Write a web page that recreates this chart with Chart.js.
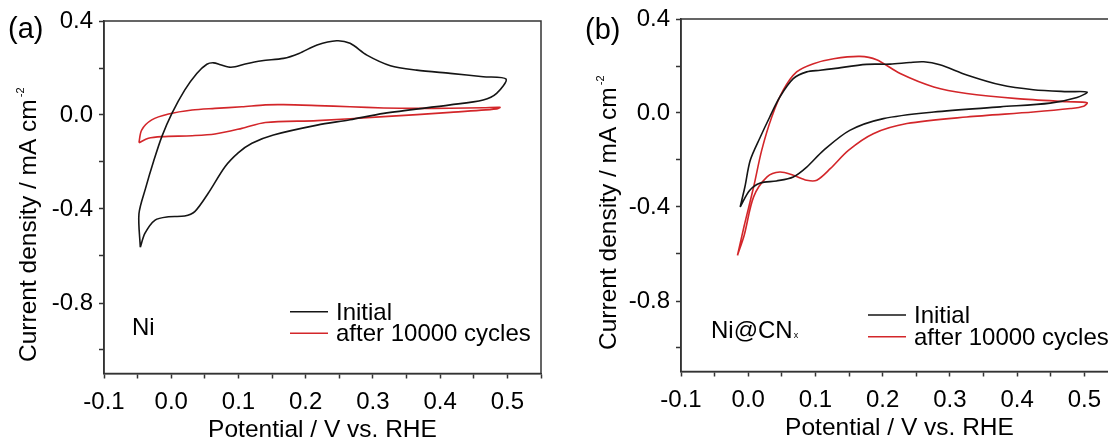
<!DOCTYPE html>
<html>
<head>
<meta charset="utf-8">
<script src="https://cdn.jsdelivr.net/npm/chart.js@4.4.1/dist/chart.umd.min.js"></script>
<style>
  html, body { margin: 0; padding: 0; background: #fff; }
  body { width: 1108px; height: 439px; overflow: hidden; position: relative; }
  .panel { position: absolute; width: 554px; height: 439px; }
  #panelA { left: 0; top: 0; }
  #panelB { left: 577px; top: -2px; }
</style>
</head>
<body>
<div class="panel" id="panelA"><canvas id="chartA" width="554" height="439"></canvas></div>
<div class="panel" id="panelB"><canvas id="chartB" width="554" height="439"></canvas></div>
<script>
// CV loops, potential (V vs. RHE) and current density (mA cm-2)
const niInitV = [-0.046, -0.048, -0.038, -0.026, -0.014, 0.001, 0.020, 0.038, 0.053, 0.063, 0.073, 0.085, 0.095, 0.110, 0.135, 0.167, 0.190, 0.217, 0.246, 0.266, 0.291, 0.326, 0.365, 0.415, 0.464, 0.498,
                 0.484, 0.464, 0.415, 0.316, 0.266, 0.217, 0.152, 0.120, 0.100, 0.080, 0.055, 0.035, 0.020, -0.004, -0.024, -0.039, -0.046];
const niInitJ = [-0.563, -0.420, -0.310, -0.195, -0.092, 0.007, 0.106, 0.177, 0.216, 0.222, 0.214, 0.204, 0.205, 0.217, 0.231, 0.241, 0.262, 0.298, 0.316, 0.305, 0.255, 0.210, 0.191, 0.177, 0.163, 0.153,
                 0.092, 0.064, 0.043, 0.007, -0.020, -0.043, -0.085, -0.120, -0.160, -0.220, -0.333, -0.411, -0.430, -0.433, -0.447, -0.503, -0.563];

const niCycV = [-0.048, -0.044, -0.029, -0.004, 0.031, 0.065, 0.105, 0.140, 0.167, 0.217, 0.266, 0.316, 0.365, 0.415, 0.464, 0.489,
                0.484, 0.415, 0.316, 0.217, 0.140, 0.105, 0.065, 0.031, -0.014, -0.034, -0.048];
const niCycJ = [-0.118, -0.064, -0.021, 0.004, 0.021, 0.028, 0.035, 0.043, 0.044, 0.040, 0.035, 0.030, 0.028, 0.029, 0.031, 0.033,
                0.026, 0.011, -0.007, -0.024, -0.032, -0.057, -0.081, -0.088, -0.092, -0.099, -0.118];

const cnInitV = [-0.012, -0.005, 0.003, 0.018, 0.032, 0.047, 0.067, 0.087, 0.107, 0.127, 0.176, 0.211, 0.240, 0.261, 0.285, 0.325, 0.375, 0.424, 0.474, 0.504,
                 0.489, 0.449, 0.375, 0.276, 0.201, 0.151, 0.112, 0.087, 0.067, 0.042, 0.018, 0.002, -0.012];
const cnInitJ = [-0.400, -0.315, -0.201, -0.102, -0.017, 0.068, 0.146, 0.175, 0.182, 0.189, 0.207, 0.208, 0.215, 0.218, 0.205, 0.162, 0.120, 0.099, 0.091, 0.089,
                 0.066, 0.042, 0.026, 0.004, -0.024, -0.074, -0.159, -0.230, -0.272, -0.289, -0.298, -0.330, -0.400];

const cnCycV = [-0.016, -0.006, 0.008, 0.020, 0.035, 0.052, 0.072, 0.097, 0.127, 0.166, 0.191, 0.226, 0.276, 0.325, 0.400, 0.474, 0.504,
                0.499, 0.479, 0.424, 0.325, 0.236, 0.186, 0.149, 0.122, 0.102, 0.087, 0.067, 0.047, 0.028, 0.008, -0.006, -0.016];
const cnCycJ = [-0.606, -0.480, -0.315, -0.159, -0.017, 0.097, 0.175, 0.210, 0.231, 0.241, 0.227, 0.168, 0.111, 0.083, 0.061, 0.048, 0.044,
                0.029, 0.019, 0.004, -0.017, -0.045, -0.088, -0.159, -0.237, -0.286, -0.286, -0.265, -0.251, -0.272, -0.357, -0.520, -0.606];

const seriesNames = ['Initial', 'after 10000 cycles'];
const seriesColors = ['#151515', '#d3262a'];

const xTicks = [-0.1, -0.05, 0.0, 0.05, 0.1, 0.15, 0.2, 0.25, 0.3, 0.35, 0.4, 0.45, 0.5, 0.55];
const yTicks = [-1.0, -0.8, -0.6, -0.4, -0.2, 0.0, 0.2, 0.4];

const FONT = '"Liberation Sans", Arial, sans-serif';
const AXIS = '#333';

function toPoints(xs, ys) {
  return xs.map((x, i) => ({ x: x, y: ys[i] }));
}

function isMultiple(v, step) {
  const r = v / step;
  return Math.abs(r - Math.round(r)) < 1e-6;
}

// full box around the plot, legend, sample name, panel letter and y title
const decorations = {
  id: 'decorations',
  afterDraw(chart, args, o) {
    const { ctx, chartArea: a } = chart;
    ctx.save();
    ctx.strokeStyle = AXIS;
    ctx.lineWidth = 1.5;
    ctx.strokeRect(a.left, a.top, a.right - a.left, a.bottom - a.top);

    ctx.fillStyle = '#000';
    ctx.textBaseline = 'alphabetic';
    ctx.textAlign = 'left';

    // panel letter
    ctx.font = '29px ' + FONT;
    ctx.fillText(o.letter, 8, o.letterY);

    // sample name
    ctx.font = '24px ' + FONT;
    ctx.fillText(o.sample, o.sampleX, o.sampleY);
    if (o.sampleSub) {
      const w = ctx.measureText(o.sample).width;
      ctx.font = '9px ' + FONT;
      ctx.fillText(o.sampleSub, o.sampleX + w + 1, o.sampleY);
    }

    // legend
    chart.data.datasets.forEach((ds, i) => {
      const y = o.legendY[i];
      ctx.strokeStyle = ds.borderColor;
      ctx.lineWidth = 1.5;
      ctx.beginPath();
      ctx.moveTo(o.legendX, y);
      ctx.lineTo(o.legendX + 38, y);
      ctx.stroke();
      ctx.font = '24px ' + FONT;
      ctx.fillText(ds.label, o.legendX + 46, y + 8);
    });

    // y axis title with superscript
    ctx.translate(o.yTitleX, o.yTitleY);
    ctx.rotate(-Math.PI / 2);
    ctx.font = '24.5px ' + FONT;
    const main = 'Current density / mA cm';
    ctx.fillText(main, 0, 0);
    const mw = ctx.measureText(main).width;
    ctx.font = '11px ' + FONT;
    ctx.fillText('-2', mw + 2, -12);
    ctx.restore();
  }
};

function makePanel(id, initV, initJ, cycV, cycJ, deco) {
  const ctx = document.getElementById(id).getContext('2d');
  return new Chart(ctx, {
    type: 'scatter',
    data: {
      datasets: [
        {
          label: seriesNames[0],
          data: toPoints(initV, initJ),
          borderColor: seriesColors[0],
          borderWidth: 1.6,
          showLine: true,
          pointRadius: 0,
          tension: 0.3,
          fill: false
        },
        {
          label: seriesNames[1],
          data: toPoints(cycV, cycJ),
          borderColor: seriesColors[1],
          borderWidth: 1.6,
          showLine: true,
          pointRadius: 0,
          tension: 0.3,
          fill: false
        }
      ]
    },
    options: {
      responsive: false,
      animation: false,
      layout: { padding: { left: 0, right: 13, top: 21, bottom: 0 } },
      plugins: {
        legend: { display: false },
        tooltip: { enabled: false },
        decorations: deco
      },
      scales: {
        x: {
          type: 'linear',
          min: -0.1,
          max: 0.55,
          afterBuildTicks: s => { s.ticks = xTicks.map(v => ({ value: v })); },
          afterFit: s => { s.height = 65.5; },
          ticks: {
            autoSkip: false,
            maxRotation: 0,
            padding: 9,
            color: '#000',
            font: { family: FONT, size: 24 },
            callback: v => isMultiple(v, 0.1) ? v.toFixed(1) : ''
          },
          grid: { drawOnChartArea: false, tickLength: 5, tickColor: AXIS, tickWidth: 1.5 },
          border: { color: AXIS, width: 1.5 },
          title: {
            display: true,
            text: 'Potential / V vs. RHE',
            color: '#000',
            font: { family: FONT, size: 24.5 },
            padding: { top: 0, bottom: -6 }
          }
        },
        y: {
          type: 'linear',
          min: -1.1,
          max: 0.4,
          afterBuildTicks: s => { s.ticks = yTicks.map(v => ({ value: v })); },
          afterFit: s => { s.width = 104; },
          ticks: {
            autoSkip: false,
            padding: 6,
            color: '#000',
            font: { family: FONT, size: 24 },
            callback: v => isMultiple(v, 0.4) ? v.toFixed(1) : ''
          },
          grid: { drawOnChartArea: false, tickLength: 5, tickColor: AXIS, tickWidth: 1.5 },
          border: { color: AXIS, width: 1.5 }
        }
      }
    },
    plugins: [decorations]
  });
}

makePanel('chartA', niInitV, niInitJ, niCycV, niCycJ, {
  letter: '(a)', letterY: 38,
  sample: 'Ni', sampleSub: '', sampleX: 132, sampleY: 335,
  legendX: 290, legendY: [311.7, 333.3],
  yTitleX: 36, yTitleY: 362
});

makePanel('chartB', cnInitV, cnInitJ, cnCycV, cnCycJ, {
  letter: '(b)', letterY: 41,
  sample: 'Ni@CN', sampleSub: 'x', sampleX: 134, sampleY: 340,
  legendX: 291, legendY: [317, 338.7],
  yTitleX: 39, yTitleY: 352
});
</script>
</body>
</html>
